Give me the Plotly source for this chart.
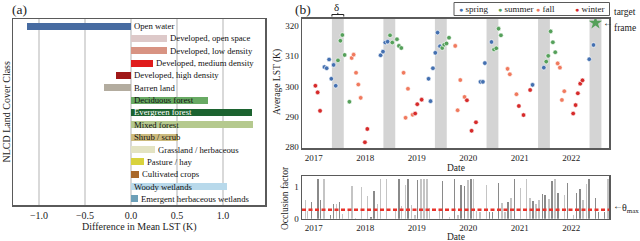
import plotly.graph_objects as go
import pandas as pd

W, H = 640, 241
FONT = "Liberation Serif"
FRAME = "#5a5a5a"

# ---------------- Panel (a) data ----------------
classes = ["Open water", "Developed, open space", "Developed, low density",
           "Developed, medium density", "Developed, high density", "Barren land",
           "Deciduous forest", "Evergreen forest", "Mixed forest", "Shrub / scrub",
           "Grassland / herbaceous", "Pasture / hay", "Cultivated crops",
           "Woody wetlands", "Emergent herbaceous wetlands"]
lst_diff = [-1.13, 0.39, 0.39, 0.24, -0.16, -0.29, 0.84, 1.32, 1.33, 0.51,
            0.26, 0.14, 0.09, 1.04, 0.08]
class_colors = ["#476BA1", "#DDC9C9", "#D89382", "#E01B1B", "#A01818", "#B3AC9F",
                "#68AA63", "#1C6330", "#B5C98E", "#CCBA7D", "#E3E3C2", "#D8D23D",
                "#A8682A", "#B8D9EB", "#6C9FB8"]
diff_ticks = [-1.0, -0.5, 0.0, 0.5, 1.0]

# ---------------- Panel (b) top data ----------------
obs_dates = ["2017-01-13", "2017-01-29", "2017-02-15", "2017-03-18", "2017-04-03", "2017-04-20",
             "2017-05-06", "2017-05-22", "2017-06-06", "2017-06-22", "2017-07-09", "2017-07-23",
             "2017-08-08", "2017-09-11", "2017-09-27", "2017-10-11", "2017-10-28", "2017-11-13",
             "2017-11-30", "2017-12-30", "2018-01-16", "2018-04-20", "2018-05-07", "2018-05-23",
             "2018-06-09", "2018-06-26", "2018-07-12", "2018-08-14", "2018-08-28", "2018-09-14",
             "2018-09-30", "2018-10-14", "2018-10-31", "2018-12-03", "2018-12-21", "2019-01-05",
             "2019-02-05", "2019-03-26", "2019-04-09", "2019-04-26", "2019-05-13", "2019-05-29",
             "2019-06-15", "2019-07-01", "2019-07-15", "2019-07-31", "2019-08-18", "2019-10-01",
             "2019-10-18", "2019-11-06", "2019-12-06", "2019-12-23", "2020-01-25", "2020-02-25",
             "2020-03-28", "2020-04-14", "2020-04-28", "2020-06-14", "2020-07-02", "2020-07-18",
             "2020-08-03", "2020-08-20", "2020-10-06", "2020-10-22", "2020-12-08", "2020-12-25",
             "2021-01-27", "2021-03-15", "2021-04-01", "2021-06-20", "2021-07-07", "2021-07-21",
             "2021-08-07", "2021-08-23", "2021-09-09", "2021-09-26", "2021-10-12", "2021-10-26",
             "2021-11-12", "2022-01-14", "2022-01-31", "2022-02-16", "2022-03-05", "2022-03-21",
             "2022-05-08", "2022-06-07"]
obs_lst = [300.2, 298.0, 291.9, 306.4, 306.0, 308.9,
           302.5, 307.1, 300.2, 308.6, 315.1, 317.0,
           310.4, 294.9, 309.4, 310.5, 304.5, 300.6,
           296.2, 281.5, 285.9, 310.3, 311.5, 314.5,
           314.8, 316.9, 314.5, 315.6, 313.4, 312.7,
           304.5, 289.6, 299.2, 290.6, 291.0, 294.1,
           295.6, 302.5, 295.1, 306.0, 311.1, 317.8,
           313.3, 312.7, 313.8, 314.2, 316.1, 313.4,
           292.1, 302.1, 296.5, 295.4, 285.3, 288.1,
           301.5, 301.5, 307.7, 314.7, 312.2, 312.6,
           319.1, 316.9, 305.8, 304.0, 297.4, 293.5,
           290.5, 298.8, 300.5, 306.2, 308.2, 310.1,
           318.2, 314.6, 311.3, 307.6, 306.2, 295.5,
           298.4, 291.0, 293.8, 297.7, 300.9, 302.0,
           309.0, 313.7]
obs_season = ["winter", "winter", "winter", "spring", "spring", "spring",
              "spring", "spring", "spring", "summer", "summer", "summer",
              "summer", "summer", "fall", "fall", "fall", "fall",
              "fall", "winter", "winter", "spring", "spring", "spring",
              "spring", "summer", "summer", "summer", "summer", "summer",
              "fall", "fall", "fall", "fall", "winter", "winter",
              "winter", "spring", "spring", "spring", "spring", "spring",
              "spring", "summer", "summer", "summer", "summer", "fall",
              "fall", "fall", "fall", "winter", "winter", "winter",
              "spring", "spring", "spring", "spring", "summer", "summer",
              "summer", "summer", "fall", "fall", "fall", "winter",
              "winter", "winter", "spring", "spring", "summer", "summer",
              "summer", "summer", "summer", "fall", "fall", "fall",
              "fall", "winter", "winter", "winter", "winter", "winter",
              "spring", "spring"]
seasons = ["spring", "summer", "fall", "winter"]
season_colors = {"spring": "#4470b0", "summer": "#55a05a", "fall": "#f07a5e", "winter": "#d62a2a"}

target_date = "2022-06-21"
target_lst = 321.0
delta_days = 42
band_years = [2017, 2018, 2019, 2020, 2021, 2022]
year_ticks = ["2017", "2018", "2019", "2020", "2021", "2022"]
lst_ticks = [280, 290, 300, 310, 320]

# ---------------- Panel (b) bottom data ----------------
occl_dates = ["2016-11-02", "2016-11-19", "2016-12-17", "2017-02-01", "2017-02-19", "2017-03-15",
              "2017-04-29", "2017-05-22", "2017-06-10", "2017-07-02", "2017-07-25", "2017-09-06",
              "2017-09-30", "2017-10-23", "2017-12-06", "2018-01-18", "2018-02-11", "2018-03-04",
              "2018-03-28", "2018-04-20", "2018-06-02", "2018-08-02", "2018-08-28", "2018-09-16",
              "2018-10-12", "2018-10-31", "2018-11-26", "2018-12-20", "2019-01-07", "2019-01-31",
              "2019-02-21", "2019-03-15", "2019-04-02", "2019-06-12", "2019-07-01", "2019-08-20",
              "2019-09-26", "2019-10-22", "2019-11-12", "2019-12-06", "2019-12-30", "2020-01-20",
              "2020-02-08", "2020-02-27", "2020-03-24", "2020-05-10", "2020-05-29", "2020-06-20",
              "2020-08-03", "2020-08-27", "2020-09-18", "2020-10-09", "2020-10-30", "2020-11-23",
              "2021-01-07", "2021-02-18", "2021-03-14", "2021-04-04", "2021-04-25", "2021-05-16",
              "2021-06-09", "2021-06-28", "2021-07-26", "2021-08-17", "2021-09-07", "2021-09-28",
              "2021-11-12", "2021-12-05", "2022-01-17", "2022-02-07", "2022-03-03", "2022-03-24",
              "2022-04-17", "2022-05-06", "2022-06-21", "2022-07-12", "2022-08-24", "2022-09-17"]
occl_values = [0.57, 0.24, 0.51, 1.22, 0.58, 1.22,
               0.12, 0.45, 0.47, 0.52, 0.16, 0.24,
               1.01, 0.03, 0.98, 0.69, 0.05, 0.85,
               0.46, 1.22, 1.22, 0.24, 1.23, 0.39,
               1.03, 1.23, 0.41, 0.12, 1.19, 1.22,
               1.22, 1.22, 0.33, 0.24, 1.16, 0.05,
               1.23, 0.10, 1.05, 1.01, 1.19, 1.22,
               1.22, 0.23, 0.21, 1.05, 0.21, 0.20,
               1.11, 0.49, 0.22, 0.53, 0.63, 1.23,
               0.96, 1.23, 0.64, 0.55, 0.47, 0.57,
               0.77, 0.74, 0.61, 1.18, 1.22, 0.79,
               0.72, 1.11, 0.10, 0.81, 0.91, 0.59,
               1.06, 1.22, 0.65, 0.22, 0.22, 1.23]
occl_shade = ["light", "light", "dark", "dark", "dark", "light",
              "dark", "dark", "light", "dark", "light", "light",
              "light", "light", "light", "light", "dark", "dark",
              "light", "light", "light", "light", "dark", "light",
              "light", "dark", "light", "light", "dark", "light",
              "light", "light", "light", "light", "dark", "light",
              "dark", "light", "dark", "dark", "light", "dark",
              "light", "light", "light", "light", "dark", "dark",
              "dark", "light", "light", "dark", "light", "dark",
              "light", "light", "light", "dark", "light", "light",
              "dark", "dark", "light", "dark", "light", "dark",
              "light", "dark", "light", "dark", "dark", "light",
              "light", "dark", "dark", "dark", "dark", "light"]
shade_colors = {"dark": "#8a8a8a", "light": "#c4c4c4"}
theta_max = 0.28
occl_ticks = [0, 1]

# ---------------- helpers ----------------
def px_x(p):
    return p / W

def px_y(p):
    return (H - p) / H

def lum(hexc):
    h = hexc.lstrip("#")
    r, g, b = (int(h[i:i + 2], 16) / 255 for i in (0, 2, 4))
    return 0.299 * r + 0.587 * g + 0.114 * b

fig = go.Figure()

# Panel (a) bars
fig.add_trace(go.Bar(x=lst_diff, y=classes, orientation="h", marker=dict(color=class_colors, line=dict(width=0)),
                     width=0.57, xaxis="x", yaxis="y", showlegend=False, hoverinfo="skip"))

annotations = []
for c, v, col in zip(classes, lst_diff, class_colors):
    inside = v > 0.45
    lx = 0 if inside else max(v, 0)
    tcol = "white" if (inside and lum(col) < 0.35) else "#111"
    annotations.append(dict(x=lx, y=c, xref="x", yref="y", text=c, showarrow=False, xanchor="left",
                            yanchor="middle", xshift=1, font=dict(size=8.7, color=tcol, family=FONT)))

# Panel (b) scatter
df = pd.DataFrame(dict(date=obs_dates, lst=obs_lst, season=obs_season))
for s in seasons:
    d = df[df.season == s]
    fig.add_trace(go.Scatter(x=d.date, y=d.lst, mode="markers", name=s, xaxis="x2", yaxis="y2",
                             marker=dict(size=4.6, color=season_colors[s], line=dict(width=0.6, color="white")),
                             showlegend=False))
fig.add_trace(go.Scatter(x=[target_date], y=[target_lst], mode="markers", xaxis="x2", yaxis="y2",
                         marker=dict(symbol="star", size=10, color=season_colors["summer"], line=dict(width=0)),
                         showlegend=False))

# Panel (b) occlusion bars
od = pd.DataFrame(dict(date=occl_dates, val=occl_values, shade=occl_shade))
for sh in ["light", "dark"]:
    d = od[od.shade == sh]
    fig.add_trace(go.Bar(x=d.date, y=d.val, xaxis="x3", yaxis="y3", width=10 * 86400000,
                         marker=dict(color=shade_colors[sh], line=dict(width=0)), showlegend=False))

shapes = []
t = pd.Timestamp(target_date)
for yr in band_years:
    c = t.replace(year=yr)
    shapes.append(dict(type="rect", xref="x2", yref="y2 domain",
                       x0=(c - pd.Timedelta(days=delta_days)).strftime("%Y-%m-%d"),
                       x1=(c + pd.Timedelta(days=delta_days)).strftime("%Y-%m-%d"),
                       y0=0, y1=1, fillcolor="#d4d4d4", line=dict(width=0), layer="below"))
# delta brace over first band
c0 = t.replace(year=band_years[0])
b0 = (c0 - pd.Timedelta(days=delta_days)).strftime("%Y-%m-%d")
b1 = (c0 + pd.Timedelta(days=delta_days)).strftime("%Y-%m-%d")
bc = c0.strftime("%Y-%m-%d")
brace = dict(color="#222", width=1)
shapes += [
    dict(type="line", xref="x2", yref="paper", x0=b0, x1=b1, y0=px_y(14.5), y1=px_y(14.5), line=brace),
    dict(type="line", xref="x2", yref="paper", x0=b0, x1=b0, y0=px_y(14.5), y1=px_y(16.5), line=brace),
    dict(type="line", xref="x2", yref="paper", x0=b1, x1=b1, y0=px_y(14.5), y1=px_y(16.5), line=brace),
    dict(type="line", xref="x2", yref="paper", x0=bc, x1=bc, y0=px_y(14.5), y1=px_y(12.8), line=brace),
]
# theta max dashed line
shapes.append(dict(type="line", xref="x3 domain", yref="y3", x0=0, x1=1, y0=theta_max, y1=theta_max,
                   line=dict(color="#e8332b", width=2.5, dash="4px,2.5px")))
# legend box
shapes.append(dict(type="rect", xref="paper", yref="paper", x0=px_x(454), x1=px_x(609.5),
                   y0=px_y(15.5), y1=px_y(2.5), line=dict(color=FRAME, width=1), fillcolor="white"))

# legend entries
leg_x = [457, 495.5, 533.5, 572.5]
for s, lx in zip(seasons, leg_x):
    annotations.append(dict(x=px_x(lx), y=px_y(9), xref="paper", yref="paper", showarrow=False,
                            xanchor="left", yanchor="middle",
                            text=f'<span style="color:{season_colors[s]};font-size:7px">●</span> {s}',
                            font=dict(size=9, family=FONT, color="#222")))

# axis titles and labels
def txt(x, y, text, size=10, angle=0, xanchor="center", **kw):
    d = dict(x=px_x(x), y=px_y(y), xref="paper", yref="paper", text=text, showarrow=False,
             xanchor=xanchor, yanchor="middle", textangle=angle, font=dict(size=size, family=FONT, color="#222"))
    d.update(kw)
    return d

annotations += [
    txt(19.5, 9.5, "(a)", size=13.5),
    txt(303, 9.5, "(b)", size=13.5),
    txt(5.5, 112, "NLCD Land Cover Class", size=10, angle=-90),
    txt(139, 227, "Difference in Mean LST (K)", size=10),
    txt(277, 82, "Average LST (K)", size=9.5, angle=-90),
    txt(285, 198, "Occlusion factor", size=9.5, angle=-90),
    txt(455.5, 168, "Date", size=9.5),
    txt(455.5, 236.5, "Date", size=9.5),
    txt(336.5, 7, "δ", size=11),
    txt(612, 12, "target", size=9.5, xanchor="left"),
    txt(612, 28, "frame", size=9.5, xanchor="left"),
    txt(601, 22.5, "←", size=10, xanchor="left"),
    txt(610.5, 205.5, "←", size=10, xanchor="left"),
    txt(620, 208, "θ<sub>max</sub>", size=10, xanchor="left"),
]

axis_common = dict(showline=True, mirror=True, linecolor=FRAME, linewidth=1.5, zeroline=False,
                   ticks="", automargin=False, tickfont=dict(size=9, family=FONT, color="#222"))

fig.update_layout(
    width=W, height=H, margin=dict(l=0, r=0, t=0, b=0),
    paper_bgcolor="white", plot_bgcolor="white",
    font=dict(family=FONT, size=10, color="#222"),
    showlegend=False, barmode="overlay", bargap=0, hovermode=False,
    xaxis=dict(domain=[px_x(13), px_x(265)], anchor="y", range=[-1.283, 1.457], tickvals=diff_ticks,
               tickformat=".1f", showgrid=True, gridcolor="#d9d9d9", gridwidth=1.5,
               **{**axis_common, "tickfont": dict(size=10, family=FONT, color="#222")}),
    yaxis=dict(domain=[px_y(205), px_y(19)], anchor="x", type="category", range=[14.49, -0.57],
               showticklabels=False, showgrid=False, **axis_common),
    xaxis2=dict(domain=[px_x(302), px_x(609.3)], anchor="y2", type="date", range=["2016-10-10", "2022-09-27"],
                tickvals=[f"{y}-01-01" for y in year_ticks], ticktext=year_ticks, showgrid=False, **axis_common),
    yaxis2=dict(domain=[px_y(148.3), px_y(18.7)], anchor="x2", range=[279.5, 322.4], tickvals=lst_ticks,
                showgrid=False, **axis_common),
    xaxis3=dict(domain=[px_x(302), px_x(609.3)], anchor="y3", type="date", range=["2016-10-10", "2022-09-27"],
                tickvals=[f"{y}-01-01" for y in year_ticks], ticktext=year_ticks, showgrid=False, **axis_common),
    yaxis3=dict(domain=[px_y(218.7), px_y(176)], anchor="x3", range=[0, 1.32], tickvals=occl_ticks,
                showgrid=False, **axis_common),
    shapes=shapes, annotations=annotations,
)

fig.write_html("out.html", config={"displayModeBar": False, "staticPlot": True},
               post_script="document.body.style.margin='0px';document.body.style.overflow='hidden';")
